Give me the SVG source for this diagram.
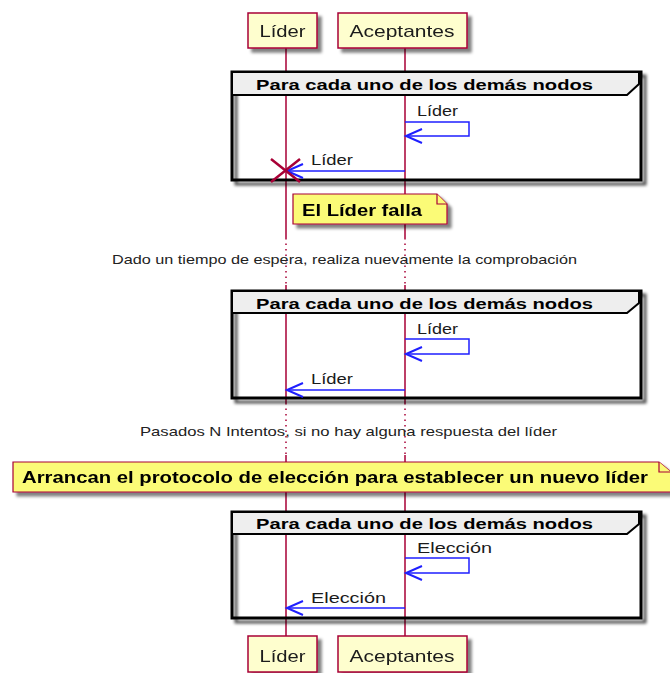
<svg xmlns="http://www.w3.org/2000/svg" width="670" height="673" viewBox="0 0 670 673">
  <style>
    .life { stroke: #A80036; stroke-width: 1.5; fill: none; }
    .life-dot { stroke: #A80036; stroke-width: 1.5; fill: none; stroke-dasharray: 1.5 4; }
    .pbox { fill: #FEFECE; stroke: #A80036; stroke-width: 1.5; }
    .ptxt { font-family: "Liberation Sans", Arial, sans-serif; font-size: 17px; fill: #1a1a1a; text-anchor: middle; }
    .frame { fill: none; stroke: #000; stroke-width: 3; }
    .ftab { fill: #EEEEEE; stroke: #000; stroke-width: 2; }
    .ftxt { font-family: "Liberation Sans", Arial, sans-serif; font-size: 15px; font-weight: bold; fill: #000; }
    .msg { stroke: #1F1FFF; stroke-width: 1.5; fill: none; }
    .mtxt { font-family: "Liberation Sans", Arial, sans-serif; font-size: 14px; fill: #1a1a1a; }
    .note { fill: #FBFB77; stroke: #A80036; stroke-width: 1.2; }
    .ntxt { font-family: "Liberation Sans", Arial, sans-serif; font-size: 16px; font-weight: bold; fill: #000; }
    .dtxt { font-family: "Liberation Sans", Arial, sans-serif; font-size: 13px; fill: #222; text-anchor: start; }
  </style>
  <defs>
    <filter id="shadow" x="-10%" y="-20%" width="130%" height="160%">
      <feGaussianBlur in="SourceAlpha" stdDeviation="1.8"/>
      <feOffset dx="4" dy="4" result="b"/>
      <feComponentTransfer><feFuncA type="linear" slope="0.5"/></feComponentTransfer>
      <feMerge><feMergeNode/><feMergeNode in="SourceGraphic"/></feMerge>
    </filter>
    <filter id="frameshadow" x="-10%" y="-20%" width="130%" height="160%">
      <feGaussianBlur in="SourceAlpha" stdDeviation="1.5"/>
      <feOffset dx="4" dy="4" result="b"/>
      <feComponentTransfer><feFuncA type="linear" slope="0.7"/></feComponentTransfer>
      <feMerge><feMergeNode/><feMergeNode in="SourceGraphic"/></feMerge>
    </filter>
    <marker id="arrow" markerUnits="userSpaceOnUse" orient="auto" markerWidth="1" markerHeight="1" overflow="visible">
      <path d="M-16,-7 L0,0 L-16,7" fill="none" stroke="#1F1FFF" stroke-width="2"/>
    </marker>
  </defs>

  <!-- lifelines -->
  <g id="lifelines">
    <path class="life" d="M286,48 V238 M286,285 V403 M286,455 V636"/>
    <path class="life-dot" d="M286,238 V285 M286,403 V455"/>
    <path class="life" d="M405,48 V238 M405,285 V403 M405,455 V636"/>
    <path class="life-dot" d="M405,238 V285 M405,403 V455"/>
  </g>

  <!-- participants -->
  <g id="lider-top" filter="url(#shadow)">
    <rect class="pbox" x="248" y="13" width="69" height="35"/>
    <text class="ptxt" x="282.5" y="37" textLength="46" lengthAdjust="spacingAndGlyphs">Líder</text>
  </g>
  <g id="aceptantes-top" filter="url(#shadow)">
    <rect class="pbox" x="338" y="13" width="129" height="35"/>
    <text class="ptxt" x="402" y="37" textLength="105" lengthAdjust="spacingAndGlyphs">Aceptantes</text>
  </g>
  <g id="lider-bottom" filter="url(#shadow)">
    <rect class="pbox" x="248" y="636" width="69" height="36"/>
    <text class="ptxt" x="282.5" y="662" textLength="46" lengthAdjust="spacingAndGlyphs">Líder</text>
  </g>
  <g id="aceptantes-bottom" filter="url(#shadow)">
    <rect class="pbox" x="338" y="636" width="129" height="36"/>
    <text class="ptxt" x="402" y="662" textLength="105" lengthAdjust="spacingAndGlyphs">Aceptantes</text>
  </g>

  <!-- loop frames -->
  <g id="loop-1">
    <rect class="frame" x="232" y="72" width="409" height="108" filter="url(#frameshadow)"/>
    <path class="ftab" d="M232,72 H639 V84 L627,95 H232 Z"/>
    <text class="ftxt" x="256" y="90" textLength="337" lengthAdjust="spacingAndGlyphs">Para cada uno de los demás nodos</text>
  </g>
  <g id="loop-2">
    <rect class="frame" x="232" y="291" width="409" height="107" filter="url(#frameshadow)"/>
    <path class="ftab" d="M232,291 H639 V303 L627,313 H232 Z"/>
    <text class="ftxt" x="256" y="309" textLength="337" lengthAdjust="spacingAndGlyphs">Para cada uno de los demás nodos</text>
  </g>
  <g id="loop-3">
    <rect class="frame" x="232" y="512" width="409" height="106" filter="url(#frameshadow)"/>
    <path class="ftab" d="M232,512 H639 V524 L627,534 H232 Z"/>
    <text class="ftxt" x="256" y="529" textLength="337" lengthAdjust="spacingAndGlyphs">Para cada uno de los demás nodos</text>
  </g>

  <!-- connectors -->
  <g id="connectors">
    <path class="msg" d="M405,122 H469 V136 H406" marker-end="url(#arrow)"/>
    <text class="mtxt" x="417" y="116" textLength="41" lengthAdjust="spacingAndGlyphs">Líder</text>
    <path class="msg" d="M405,171 H287" marker-end="url(#arrow)"/>
    <text class="mtxt" x="311" y="165" textLength="42" lengthAdjust="spacingAndGlyphs">Líder</text>

    <path class="msg" d="M405,339 H469 V354 H406" marker-end="url(#arrow)"/>
    <text class="mtxt" x="417" y="334" textLength="41" lengthAdjust="spacingAndGlyphs">Líder</text>
    <path class="msg" d="M405,390 H287" marker-end="url(#arrow)"/>
    <text class="mtxt" x="311" y="384" textLength="42" lengthAdjust="spacingAndGlyphs">Líder</text>

    <path class="msg" d="M405,558 H469 V573 H406" marker-end="url(#arrow)"/>
    <text class="mtxt" x="417" y="553" textLength="75" lengthAdjust="spacingAndGlyphs">Elección</text>
    <path class="msg" d="M405,608 H287" marker-end="url(#arrow)"/>
    <text class="mtxt" x="311" y="603" textLength="75" lengthAdjust="spacingAndGlyphs">Elección</text>
  </g>

  <!-- destruction mark -->
  <g id="destroy">
    <path d="M271,159 L300,182 M300,159 L271,182" stroke="#A80036" stroke-width="2.5" fill="none"/>
  </g>

  <!-- notes -->
  <g id="note-falla" filter="url(#shadow)">
    <path class="note" d="M293,194 H437 L447,204 V224 H293 Z"/>
    <path class="note" d="M437,194 V204 H447" fill="none"/>
    <text class="ntxt" x="302" y="216" textLength="120" lengthAdjust="spacingAndGlyphs">El Líder falla</text>
  </g>
  <g id="note-eleccion" filter="url(#shadow)">
    <path class="note" d="M13,462 H659 L671,472 V492 H13 Z"/>
    <path class="note" d="M659,462 V472 H671" fill="none"/>
    <text class="ntxt" x="22" y="483" textLength="626" lengthAdjust="spacingAndGlyphs">Arrancan el protocolo de elección para establecer un nuevo líder</text>
  </g>

  <!-- delays -->
  <g id="delay-1">
    <text class="dtxt" x="112" y="264" textLength="465" lengthAdjust="spacingAndGlyphs">Dado un tiempo de espera, realiza nuevamente la comprobación</text>
  </g>
  <g id="delay-2">
    <text class="dtxt" x="140" y="436" textLength="417" lengthAdjust="spacingAndGlyphs">Pasados N Intentos, si no hay alguna respuesta del líder</text>
  </g>
</svg>
